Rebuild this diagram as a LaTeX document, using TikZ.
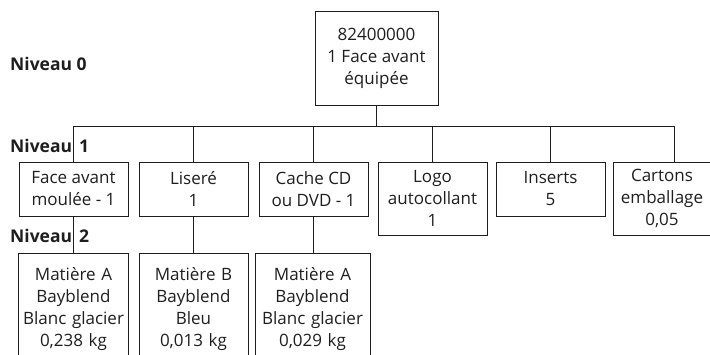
\documentclass[tikz,border=0pt]{standalone}
\usepackage{fontspec}
\setmainfont{Open Sans}
\definecolor{ink}{HTML}{1E1E1E}

\tikzset{
  box/.style={draw=ink, line width=0.8pt, text=ink, align=center, inner sep=0pt,
    font=\fontsize{17}{22}\selectfont},
  part/.style={box, minimum width=109pt, minimum height=54pt},
  tallpart/.style={box, minimum width=109pt, minimum height=73pt},
  matbox/.style={box, anchor=north, text height=27pt, text depth=80pt},
  level/.style={anchor=base west, inner sep=0pt, text=ink,
    font=\bfseries\fontsize{17.5}{20}\selectfont},
  link/.style={draw=ink, line width=0.8pt}
}

\begin{document}
\begin{tikzpicture}[x=1pt, y=-1pt]
   \useasboundingbox (0,0) rectangle (710,354);
   \node[level] (n0) at (10,70) {Niveau 0};
   \node[level] (n1) at (10,152) {Niveau\hspace{7pt}1};
   \node[level] (n2) at (10,242.5) {Niveau\hspace{7pt}2};
   \node[box, minimum width=123pt, minimum height=94pt] (root) at (376.5,58)
     {82400000\\1 Face avant\\équipée};
   \node[part] (p1) at (73.5,189) {Face avant\\moulée - 1};
   \node[part] (p2) at (193.5,189) {Liseré\\1};
   \node[part] (p3) at (313.5,189) {Cache CD\\ou DVD - 1};
   \node[tallpart] (p4) at (432.5,198.5) {Logo\\autocollant\\1};
   \node[part] (p5) at (550.5,189) {Inserts\\5};
   \node[tallpart, minimum width=98pt] (p6) at (662,198.5) {Cartons\\emballage\\0,05};
   \node[matbox, text width=110pt] (m1) at (73.5,253) {Matière A\\Bayblend\\Blanc glacier\\0,238 kg};
   \node[matbox, text width=109pt] (m2) at (193.5,253) {Matière B\\Bayblend\\Bleu\\0,013 kg};
   \node[matbox, text width=115pt] (m3) at (312.5,253) {Matière A\\Bayblend\\Blanc glacier\\0,029 kg};
   \coordinate (bus) at (376.5,126);
   \coordinate (p6in) at (674,162);
   \draw[link] (root.south) -- (bus);
   \draw[link] (p1.north |- bus) -- (p6in |- bus) -- (p6in);
   \foreach \p in {p1,p2,p3,p4,p5}
     \draw[link] (\p.north |- bus) -- (\p.north);
   \foreach \p/\m in {p1/m1,p2/m2,p3/m3}
     \draw[link] (\p.south) -- (\p.south |- \m.north);
\end{tikzpicture}
\end{document}
